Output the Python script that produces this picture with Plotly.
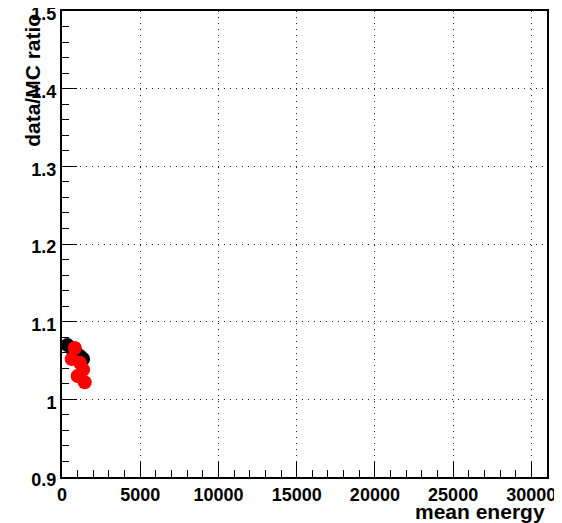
import plotly.graph_objects as go

# data
black_x = [350, 650, 950, 1200, 1350]
black_y = [1.070, 1.064, 1.059, 1.055, 1.052]
red_x = [820, 620, 1150, 1350, 1000, 1450]
red_y = [1.066, 1.052, 1.047, 1.038, 1.030, 1.022]

x_title = "mean energy"
y_title = "data/MC ratio"

FONT = "Liberation Sans, Arial, sans-serif"

fig = go.Figure()
fig.add_trace(go.Scatter(x=black_x, y=black_y, mode="markers",
                         marker=dict(color="black", size=14), showlegend=False))
fig.add_trace(go.Scatter(x=red_x, y=red_y, mode="markers",
                         marker=dict(color="#ff0000", size=14), showlegend=False))

axis_common = dict(
    showline=True, linecolor="black", linewidth=2, mirror=True,
    ticks="inside", ticklen=15, tickwidth=1, tickcolor="black",
    showgrid=True, gridcolor="#222222", griddash="1px,5px", gridwidth=1,
    zeroline=False, automargin=False, ticklabeloverflow="allow",
    tickfont=dict(family=FONT, size=18, color="black", weight="bold"),
)

fig.update_xaxes(range=[0, 31000], dtick=5000, tick0=0, tickformat="d",
                 minor=dict(dtick=1000, ticks="inside", ticklen=7, tickcolor="black", showgrid=False),
                 **axis_common)
fig.update_yaxes(range=[0.9, 1.5], dtick=0.1, tick0=0.9, tickformat="~g",
                 ticklabelshift=3,
                 minor=dict(dtick=0.02, ticks="inside", ticklen=7, tickcolor="black", showgrid=False),
                 **axis_common)

fig.add_annotation(text=y_title, xref="paper", yref="paper", x=-0.06, y=0.999,
                   xanchor="center", yanchor="top", textangle=-90, showarrow=False,
                   font=dict(family=FONT, size=21, color="black", weight="bold"))
fig.add_annotation(text=x_title, xref="paper", yref="paper", x=1.0, y=-0.073,
                   xanchor="right", yanchor="middle", showarrow=False,
                   font=dict(family=FONT, size=21, color="black", weight="bold"))

# the page body has an 8px margin, so the figure is sized to fit the window
fig.update_layout(
    width=554, height=515,
    margin=dict(l=54, r=15, t=3, b=46),
    plot_bgcolor="white", paper_bgcolor="white",
)

fig.write_html("out.html")
